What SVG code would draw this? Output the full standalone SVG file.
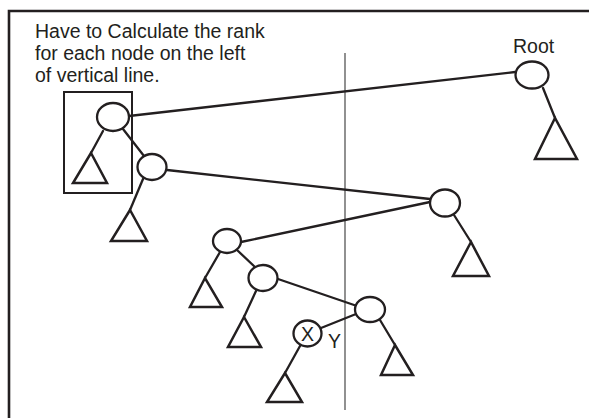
<svg xmlns="http://www.w3.org/2000/svg" width="589" height="418" viewBox="0 0 589 418">
  <style>
    .frame { fill: none; stroke: #231f20; stroke-width: 2.6; }
    .node ellipse { fill: #fff; stroke: #231f20; stroke-width: 2.3; }
    .sub { fill: none; stroke: #231f20; stroke-width: 2.5; stroke-linejoin: miter; }
    .edge { fill: none; stroke: #231f20; stroke-width: 2.3; stroke-linecap: round; }
    .divider { stroke: #555; stroke-width: 1.3; }
    .box { fill: none; stroke: #231f20; stroke-width: 2; }
    text { font-family: "Liberation Sans", Arial, Helvetica, sans-serif; font-size: 19.5px; fill: #231f20; }
  </style>

  <rect width="589" height="418" fill="#fff"/>

  <!-- open frame: top and left borders -->
  <path class="frame" d="M9,418 V11 H589"/>

  <!-- caption -->
  <g id="caption">
    <text x="35" y="37.5">Have to Calculate the rank</text>
    <text x="35" y="59.5">for each node on the left</text>
    <text x="35" y="81.5">of vertical line.</text>
  </g>

  <!-- vertical dividing line -->
  <line id="divider" class="divider" x1="345" y1="53" x2="345" y2="410"/>

  <!-- highlight box round the first left-side node -->
  <rect id="highlight" class="box" x="64" y="92" width="68" height="101"/>

  <!-- connectors -->
  <g id="connectors">
    <line class="edge" x1="129" y1="116" x2="515" y2="72"/>
    <line class="edge" x1="123" y1="129" x2="144" y2="156"/>
    <line class="edge" x1="167" y1="170" x2="430" y2="199"/>
    <line class="edge" x1="430" y1="202" x2="241" y2="242"/>
    <line class="edge" x1="237" y1="250" x2="255" y2="267"/>
    <line class="edge" x1="278" y1="279" x2="357" y2="306"/>
    <line class="edge" x1="356" y1="314" x2="321" y2="328"/>
    <!-- subtree stems -->
    <line class="edge" x1="543" y1="88" x2="555" y2="118"/>
    <line class="edge" x1="103" y1="131" x2="91" y2="153"/>
    <line class="edge" x1="143" y1="179" x2="130" y2="210"/>
    <line class="edge" x1="454" y1="215" x2="471" y2="242"/>
    <line class="edge" x1="220" y1="252" x2="205" y2="278"/>
    <line class="edge" x1="256" y1="291" x2="244" y2="317"/>
    <line class="edge" x1="380" y1="320" x2="395" y2="345"/>
    <line class="edge" x1="300" y1="346" x2="285" y2="373"/>
  </g>

  <!-- nodes -->
  <g id="root" class="node">
    <ellipse cx="532" cy="75" rx="16.5" ry="13.5"/>
    <text x="513" y="53">Root</text>
  </g>
  <g id="root-subtree"><polygon class="sub" points="555,118 535,159 577,159"/></g>

  <g id="node-a" class="node"><ellipse cx="113" cy="117" rx="16" ry="14"/></g>
  <g id="node-a-subtree"><polygon class="sub" points="91,153 73,183 107,183"/></g>

  <g id="node-b" class="node"><ellipse cx="152" cy="167" rx="14.5" ry="13"/></g>
  <g id="node-b-subtree"><polygon class="sub" points="130,210 111,241 147,241"/></g>

  <g id="node-c" class="node"><ellipse cx="445" cy="203" rx="15" ry="13.5"/></g>
  <g id="node-c-subtree"><polygon class="sub" points="471,242 453,276 489,276"/></g>

  <g id="node-d" class="node"><ellipse cx="227" cy="241" rx="14" ry="12"/></g>
  <g id="node-d-subtree"><polygon class="sub" points="205,278 190,307 222,307"/></g>

  <g id="node-e" class="node"><ellipse cx="263" cy="278" rx="14.5" ry="13"/></g>
  <g id="node-e-subtree"><polygon class="sub" points="244,317 228,347 261,347"/></g>

  <g id="node-f" class="node"><ellipse cx="370" cy="309.5" rx="15" ry="12.5"/></g>
  <g id="node-f-subtree"><polygon class="sub" points="395,345 381,375 413,375"/></g>

  <g id="node-x" class="node">
    <ellipse cx="307.5" cy="333.5" rx="14" ry="13"/>
    <text x="307.5" y="340.5" text-anchor="middle">X</text>
    <text x="328" y="347.5">Y</text>
  </g>
  <g id="node-x-subtree"><polygon class="sub" points="285,373 267,402 302,402"/></g>
</svg>
